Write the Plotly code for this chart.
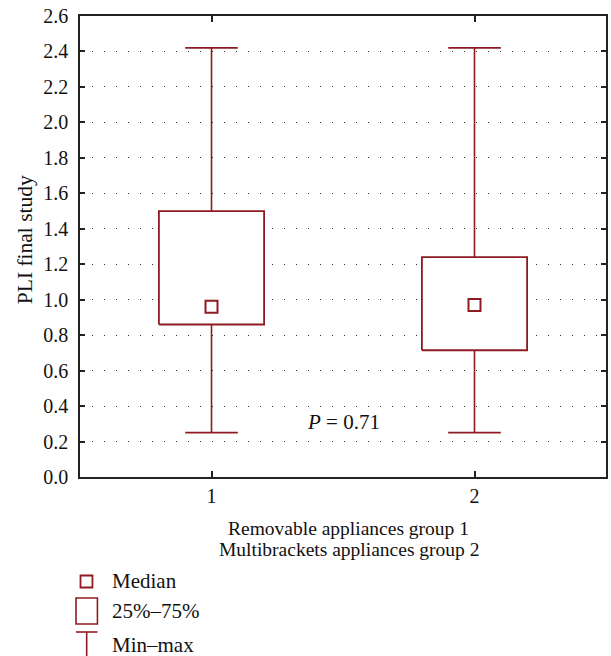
import plotly.graph_objects as go

# ---- data ----
groups = [1, 2]
group_labels = ["1", "2"]
q1_vals = [0.86, 0.715]
q3_vals = [1.50, 1.24]
median_vals = [0.96, 0.97]
min_vals = [0.25, 0.25]
max_vals = [2.42, 2.42]
y_ticks = [0.0, 0.2, 0.4, 0.6, 0.8, 1.0, 1.2, 1.4, 1.6, 1.8, 2.0, 2.2, 2.4, 2.6]
p_text = "<i>P</i> = 0.71"

RED = "#8e1b22"
FONT = "Liberation Serif"
FS = 20
W, H = 611, 656
ML, MR, MT, MB = 80, 3, 16, 179
PW, PH = W - ML - MR, H - MT - MB

BOX_HALF = 0.2
CAP_HALF = 0.1

fig = go.Figure()

for g, lo, hi, a, b in zip(groups, min_vals, max_vals, q1_vals, q3_vals):
    # whiskers
    fig.add_trace(go.Scatter(
        x=[g, g, None, g, g], y=[b, hi, None, a, lo],
        mode="lines", line=dict(color=RED, width=1.6), showlegend=False, hoverinfo="skip"))
    # caps
    fig.add_trace(go.Scatter(
        x=[g - CAP_HALF, g + CAP_HALF, None, g - CAP_HALF, g + CAP_HALF],
        y=[hi, hi, None, lo, lo],
        mode="lines", line=dict(color=RED, width=1.8), showlegend=False, hoverinfo="skip"))
    # box
    fig.add_trace(go.Scatter(
        x=[g - BOX_HALF, g + BOX_HALF, g + BOX_HALF, g - BOX_HALF, g - BOX_HALF],
        y=[a, a, b, b, a],
        mode="lines", line=dict(color=RED, width=1.8), fill="toself", fillcolor="white",
        showlegend=False, hoverinfo="skip"))

fig.add_trace(go.Scatter(
    x=groups, y=median_vals, mode="markers",
    marker=dict(symbol="square-open", size=12, color=RED, line=dict(width=2, color=RED)),
    showlegend=False, hoverinfo="skip"))


def px_x(px):
    return (px - ML) / PW


def px_y(py):
    return (H - MB - py) / PH


shapes = []
annotations = []
# legend: median
shapes.append(dict(type="rect", xref="paper", yref="paper",
                   x0=px_x(80.5), x1=px_x(92.5), y0=px_y(575.5), y1=px_y(587.5),
                   line=dict(color=RED, width=1.8)))
# legend: 25-75 box
shapes.append(dict(type="rect", xref="paper", yref="paper",
                   x0=px_x(76), x1=px_x(97.5), y0=px_y(598), y1=px_y(624),
                   line=dict(color=RED, width=1.6)))
# legend: min-max
shapes.append(dict(type="line", xref="paper", yref="paper",
                   x0=px_x(76), x1=px_x(97.5), y0=px_y(632), y1=px_y(632),
                   line=dict(color=RED, width=1.6)))
shapes.append(dict(type="line", xref="paper", yref="paper",
                   x0=px_x(86.7), x1=px_x(86.7), y0=px_y(632), y1=px_y(660),
                   line=dict(color=RED, width=1.6)))

for txt, cy in [("Median", 581), ("25%–75%", 611), ("Min–max", 645)]:
    annotations.append(dict(text=txt, xref="paper", yref="paper", x=px_x(110), y=px_y(cy),
                            xanchor="left", yanchor="middle", showarrow=False,
                            font=dict(family=FONT, size=21, color="#111")))

# x axis title (two lines)
for txt, cy in [("Removable appliances group 1", 528), ("Multibrackets appliances group 2", 549)]:
    annotations.append(dict(text=txt, xref="paper", yref="paper", x=px_x(350), y=px_y(cy),
                            xanchor="center", yanchor="middle", showarrow=False,
                            font=dict(family=FONT, size=19.5, color="#111")))

# y axis title
annotations.append(dict(text="PLI final study", xref="paper", yref="paper",
                        x=px_x(25), y=px_y(240), textangle=-90,
                        xanchor="center", yanchor="middle", showarrow=False,
                        font=dict(family=FONT, size=21.5, color="#111")))

# P value
annotations.append(dict(text=p_text, x=1.5, y=0.31, xref="x", yref="y",
                        xanchor="center", yanchor="middle", showarrow=False,
                        font=dict(family=FONT, size=21, color="#111")))

fig.update_layout(
    width=W, height=H,
    margin=dict(l=ML, r=MR, t=MT, b=MB),
    paper_bgcolor="white", plot_bgcolor="white",
    font=dict(family=FONT, size=FS, color="#111"),
    shapes=shapes, annotations=annotations,
    showlegend=False,
)
fig.update_xaxes(
    range=[0.5, 2.5], tickvals=groups, ticktext=group_labels,
    showgrid=False, zeroline=False,
    showline=True, linecolor="#222", linewidth=1.5, mirror="ticks",
    ticks="inside", ticklen=6, tickwidth=1.5, tickcolor="#222",
    tickfont=dict(family=FONT, size=FS, color="#111"),
)
fig.update_yaxes(
    range=[0, 2.6], tickvals=y_ticks, tickformat=".1f",
    showgrid=True, gridcolor="#333", gridwidth=1.2, griddash="1.2px,10.8px",
    zeroline=False,
    showline=True, linecolor="#222", linewidth=1.5, mirror="ticks",
    ticks="inside", ticklen=5, tickwidth=1.5, tickcolor="#222",
    tickfont=dict(family=FONT, size=FS, color="#111"),
    ticklabelstandoff=6,
)

fig.write_html("out.html")
